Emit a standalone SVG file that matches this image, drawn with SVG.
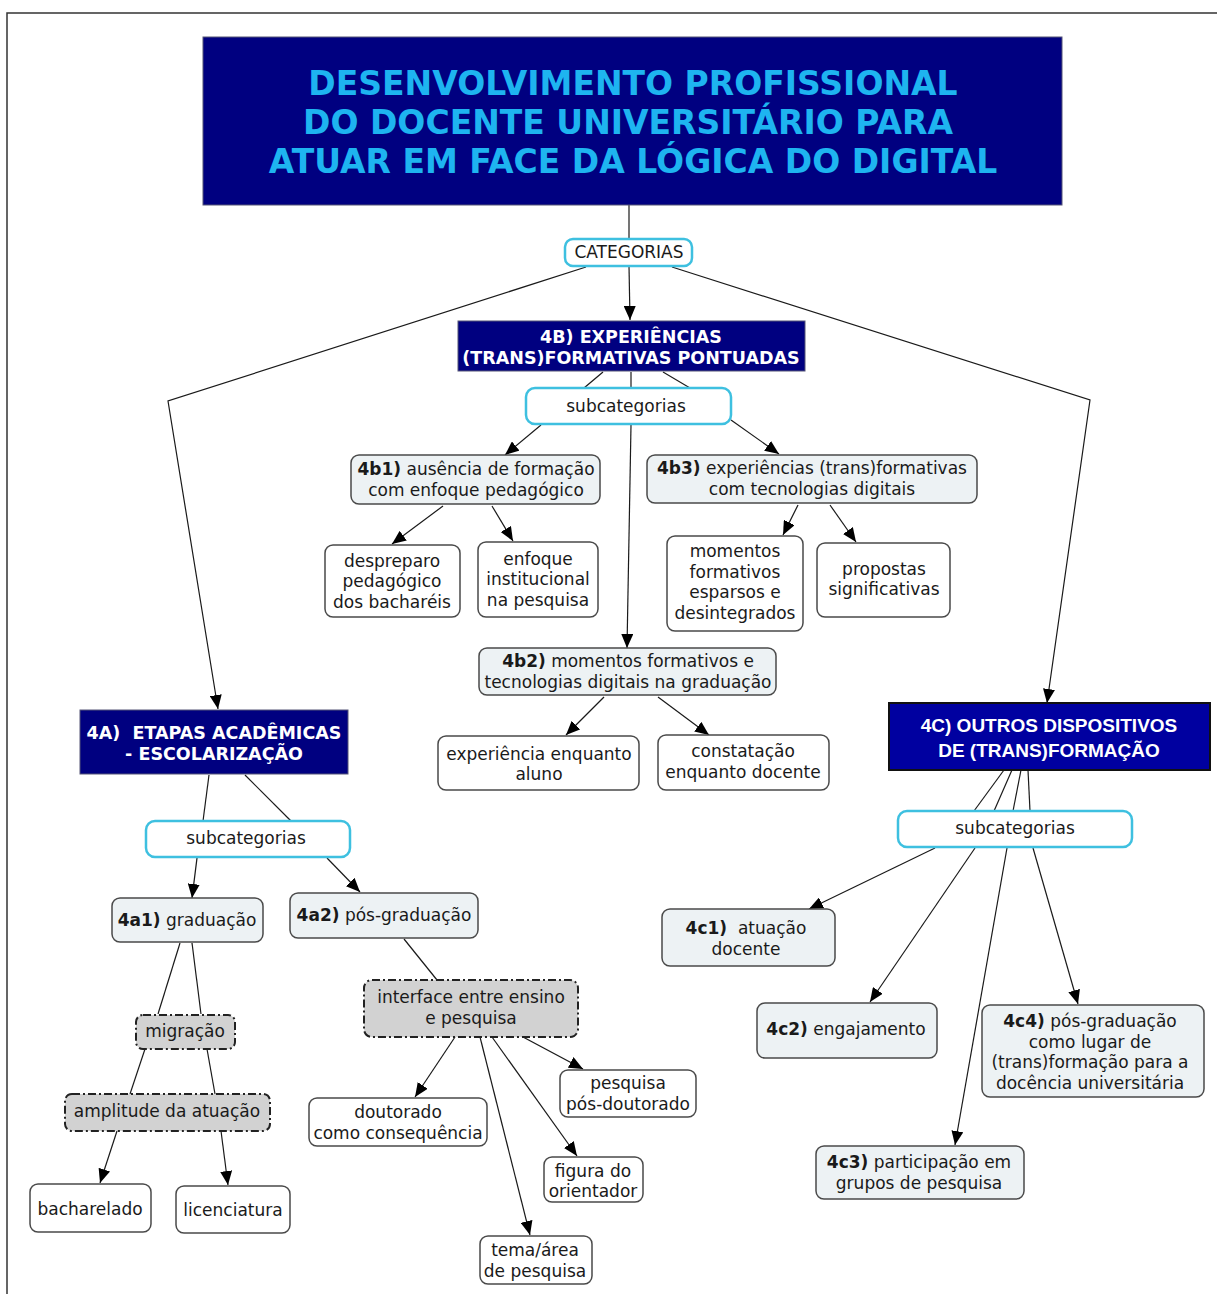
<svg xmlns="http://www.w3.org/2000/svg" width="1217" height="1294" viewBox="0 0 1217 1294">
  <style>
    text { font-family: "DejaVu Sans", Verdana, sans-serif; font-size: 17px; fill: #1a1a1a; text-anchor: middle; }
    .title { font-size: 33px; font-weight: bold; fill: #1EB4F0; }
    .head { font-size: 17.5px; font-weight: bold; fill: #FFFFFF; }
    .head4c { font-family: "Liberation Sans", Arial, sans-serif; font-size: 19px; font-weight: bold; fill: #FFFFFF; }
    .b { font-weight: bold; }
    .navy { fill: #000080; stroke: #555577; stroke-width: 1; }
    .navy4c { fill: #0000A0; stroke: #111111; stroke-width: 2; }
    .link { fill: #FFFFFF; stroke: #3EC0E0; stroke-width: 2.5; }
    .concept { fill: #EDF2F4; stroke: #4a4a4a; stroke-width: 1.5; }
    .plain { fill: #FFFFFF; stroke: #4a4a4a; stroke-width: 1.5; }
    .dash { fill: #D2D2D2; stroke: #222222; stroke-width: 2; stroke-dasharray: 8 3 2 3; }
    .edges path { fill: none; stroke: #1a1a1a; stroke-width: 1.2; }
    .edges path.a { marker-end: url(#arr); }
    .frame { fill: none; stroke: #333333; stroke-width: 1.5; }
  </style>
  <defs>
    <marker id="arr" viewBox="0 0 14 12" refX="14" refY="6" markerWidth="14" markerHeight="12" markerUnits="userSpaceOnUse" orient="auto">
      <path d="M0,0 L14,6 L0,12 z" fill="#000000"/>
    </marker>
  </defs>

  <rect width="1217" height="1294" fill="#FFFFFF"/>
  <path class="frame" d="M7,1294 L7,13 L1217,13"/>

  <!-- connectors -->
  <g id="connectors" class="edges">
    <path d="M629,205 L629,239"/>
    <path class="a" d="M629,266 L630,320"/>
    <path class="a" d="M586,267 L168,401 L218,709"/>
    <path class="a" d="M672,267 L1090,400 L1047,703"/>

    <path d="M603,372 L584,388"/>
    <path d="M631,372 L631,388"/>
    <path d="M663,372 L690,388"/>
    <path class="a" d="M541,425 L505,455"/>
    <path class="a" d="M631,425 L627,648"/>
    <path class="a" d="M731,420 L779,454"/>

    <path class="a" d="M443,506 L392,544"/>
    <path class="a" d="M492,506 L513,541"/>
    <path class="a" d="M798,505 L783,535"/>
    <path class="a" d="M830,505 L856,542"/>
    <path class="a" d="M604,697 L566,735"/>
    <path class="a" d="M658,697 L709,735"/>

    <path d="M209,775 L203,821"/>
    <path d="M245,775 L291,821"/>
    <path class="a" d="M197,858 L192,898"/>
    <path class="a" d="M327,858 L360,892"/>
    <path d="M180,943 L158,1014"/>
    <path d="M192,943 L201,1014"/>
    <path d="M145,1049 L130,1094"/>
    <path d="M207,1049 L215,1094"/>
    <path class="a" d="M117,1131 L100,1183"/>
    <path class="a" d="M221,1131 L228,1185"/>

    <path d="M404,939 L437,980"/>
    <path class="a" d="M455,1037 L415,1097"/>
    <path class="a" d="M480,1037 L530,1235"/>
    <path class="a" d="M492,1037 L577,1156"/>
    <path class="a" d="M523,1037 L583,1069"/>

    <path d="M1004,770 L974,811"/>
    <path d="M1012,770 L994,811"/>
    <path d="M1021,770 L1013,811"/>
    <path d="M1028,770 L1030,811"/>
    <path class="a" d="M935,848 L809,909"/>
    <path class="a" d="M975,848 L870,1002"/>
    <path class="a" d="M1007,848 L955,1145"/>
    <path class="a" d="M1033,848 L1078,1004"/>
  </g>

  <!-- title -->
  <g id="title">
    <rect class="navy" x="203" y="37" width="859" height="168"/>
    <text class="title" x="633" y="95">DESENVOLVIMENTO PROFISSIONAL</text>
    <text class="title" x="628" y="134">DO DOCENTE UNIVERSITÁRIO PARA</text>
    <text class="title" x="633" y="173">ATUAR EM FACE DA LÓGICA DO DIGITAL</text>
  </g>

  <g id="categorias">
    <rect class="link" x="565" y="239" width="127" height="27" rx="8"/>
    <text x="629" y="258">CATEGORIAS</text>
  </g>

  <!-- 4B branch -->
  <g id="cat-4b">
    <rect class="navy" x="458" y="321" width="347" height="50"/>
    <text class="head" x="631" y="343">4B) EXPERIÊNCIAS</text>
    <text class="head" x="631" y="364">(TRANS)FORMATIVAS PONTUADAS</text>
  </g>
  <g id="sub-4b">
    <rect class="link" x="526" y="388" width="205" height="36" rx="9"/>
    <text x="626" y="412">subcategorias</text>
  </g>
  <g id="n-4b1">
    <rect class="concept" x="351" y="455" width="249" height="49" rx="8"/>
    <text x="476" y="475"><tspan class="b">4b1)</tspan> ausência de formação</text>
    <text x="476" y="496">com enfoque pedagógico</text>
  </g>
  <g id="n-despreparo">
    <rect class="plain" x="325" y="545" width="135" height="72" rx="8"/>
    <text x="392" y="567">despreparo</text>
    <text x="392" y="587">pedagógico</text>
    <text x="392" y="608">dos bacharéis</text>
  </g>
  <g id="n-enfoque">
    <rect class="plain" x="478" y="542" width="120" height="75" rx="8"/>
    <text x="538" y="565">enfoque</text>
    <text x="538" y="585">institucional</text>
    <text x="538" y="606">na pesquisa</text>
  </g>
  <g id="n-4b3">
    <rect class="concept" x="647" y="455" width="330" height="48" rx="8"/>
    <text x="812" y="474"><tspan class="b">4b3)</tspan> experiências (trans)formativas</text>
    <text x="812" y="495">com tecnologias digitais</text>
  </g>
  <g id="n-momentos">
    <rect class="plain" x="667" y="536" width="136" height="95" rx="8"/>
    <text x="735" y="557">momentos</text>
    <text x="735" y="578">formativos</text>
    <text x="735" y="598">esparsos e</text>
    <text x="735" y="619">desintegrados</text>
  </g>
  <g id="n-propostas">
    <rect class="plain" x="817" y="543" width="133" height="74" rx="8"/>
    <text x="884" y="575">propostas</text>
    <text x="884" y="595">significativas</text>
  </g>
  <g id="n-4b2">
    <rect class="concept" x="479" y="648" width="297" height="47" rx="8"/>
    <text x="628" y="667"><tspan class="b">4b2)</tspan> momentos formativos e</text>
    <text x="628" y="688">tecnologias digitais na graduação</text>
  </g>
  <g id="n-experiencia">
    <rect class="plain" x="438" y="736" width="201" height="54" rx="8"/>
    <text x="539" y="760">experiência enquanto</text>
    <text x="539" y="780">aluno</text>
  </g>
  <g id="n-constatacao">
    <rect class="plain" x="658" y="735" width="171" height="55" rx="8"/>
    <text x="743" y="757">constatação</text>
    <text x="743" y="778">enquanto docente</text>
  </g>

  <!-- 4A branch -->
  <g id="cat-4a">
    <rect class="navy" x="80" y="710" width="268" height="64"/>
    <text class="head" x="214" y="739" xml:space="preserve">4A)  ETAPAS ACADÊMICAS</text>
    <text class="head" x="214" y="760">- ESCOLARIZAÇÃO</text>
  </g>
  <g id="sub-4a">
    <rect class="link" x="146" y="821" width="204" height="36" rx="9"/>
    <text x="246" y="844">subcategorias</text>
  </g>
  <g id="n-4a1">
    <rect class="concept" x="112" y="898" width="151" height="44" rx="8"/>
    <text x="187" y="926"><tspan class="b">4a1)</tspan> graduação</text>
  </g>
  <g id="n-4a2">
    <rect class="concept" x="290" y="893" width="188" height="45" rx="8"/>
    <text x="384" y="921"><tspan class="b">4a2)</tspan> pós-graduação</text>
  </g>
  <g id="n-migracao">
    <rect class="dash" x="136" y="1015" width="99" height="34" rx="7"/>
    <text x="185" y="1037">migração</text>
  </g>
  <g id="n-amplitude">
    <rect class="dash" x="65" y="1094" width="205" height="37" rx="7"/>
    <text x="167" y="1117">amplitude da atuação</text>
  </g>
  <g id="n-bacharelado">
    <rect class="plain" x="30" y="1184" width="121" height="48" rx="8"/>
    <text x="90" y="1215">bacharelado</text>
  </g>
  <g id="n-licenciatura">
    <rect class="plain" x="176" y="1186" width="114" height="47" rx="8"/>
    <text x="233" y="1216">licenciatura</text>
  </g>
  <g id="n-interface">
    <rect class="dash" x="364" y="980" width="214" height="57" rx="8"/>
    <text x="471" y="1003">interface entre ensino</text>
    <text x="471" y="1024">e pesquisa</text>
  </g>
  <g id="n-doutorado">
    <rect class="plain" x="309" y="1098" width="178" height="48" rx="8"/>
    <text x="398" y="1118">doutorado</text>
    <text x="398" y="1139">como consequência</text>
  </g>
  <g id="n-posdoc">
    <rect class="plain" x="560" y="1070" width="136" height="47" rx="8"/>
    <text x="628" y="1089">pesquisa</text>
    <text x="628" y="1110">pós-doutorado</text>
  </g>
  <g id="n-figura">
    <rect class="plain" x="544" y="1157" width="99" height="45" rx="8"/>
    <text x="593" y="1177">figura do</text>
    <text x="593" y="1197">orientador</text>
  </g>
  <g id="n-tema">
    <rect class="plain" x="480" y="1236" width="112" height="48" rx="8"/>
    <text x="535" y="1256">tema/área</text>
    <text x="535" y="1277">de pesquisa</text>
  </g>

  <!-- 4C branch -->
  <g id="cat-4c">
    <rect class="navy4c" x="889" y="703" width="321" height="67"/>
    <text class="head4c" x="1049" y="732">4C) OUTROS DISPOSITIVOS</text>
    <text class="head4c" x="1049" y="757">DE (TRANS)FORMAÇÃO</text>
  </g>
  <g id="sub-4c">
    <rect class="link" x="898" y="811" width="234" height="36" rx="9"/>
    <text x="1015" y="834">subcategorias</text>
  </g>
  <g id="n-4c1">
    <rect class="concept" x="662" y="909" width="173" height="57" rx="8"/>
    <text x="746" y="934" xml:space="preserve"><tspan class="b">4c1)</tspan>  atuação</text>
    <text x="746" y="955">docente</text>
  </g>
  <g id="n-4c2">
    <rect class="concept" x="757" y="1003" width="180" height="55" rx="8"/>
    <text x="846" y="1035"><tspan class="b">4c2)</tspan> engajamento</text>
  </g>
  <g id="n-4c4">
    <rect class="concept" x="982" y="1005" width="222" height="92" rx="8"/>
    <text x="1090" y="1027"><tspan class="b">4c4)</tspan> pós-graduação</text>
    <text x="1090" y="1048">como lugar de</text>
    <text x="1090" y="1068">(trans)formação para a</text>
    <text x="1090" y="1089">docência universitária</text>
  </g>
  <g id="n-4c3">
    <rect class="concept" x="816" y="1146" width="208" height="53" rx="8"/>
    <text x="919" y="1168"><tspan class="b">4c3)</tspan> participação em</text>
    <text x="919" y="1189">grupos de pesquisa</text>
  </g>
</svg>
